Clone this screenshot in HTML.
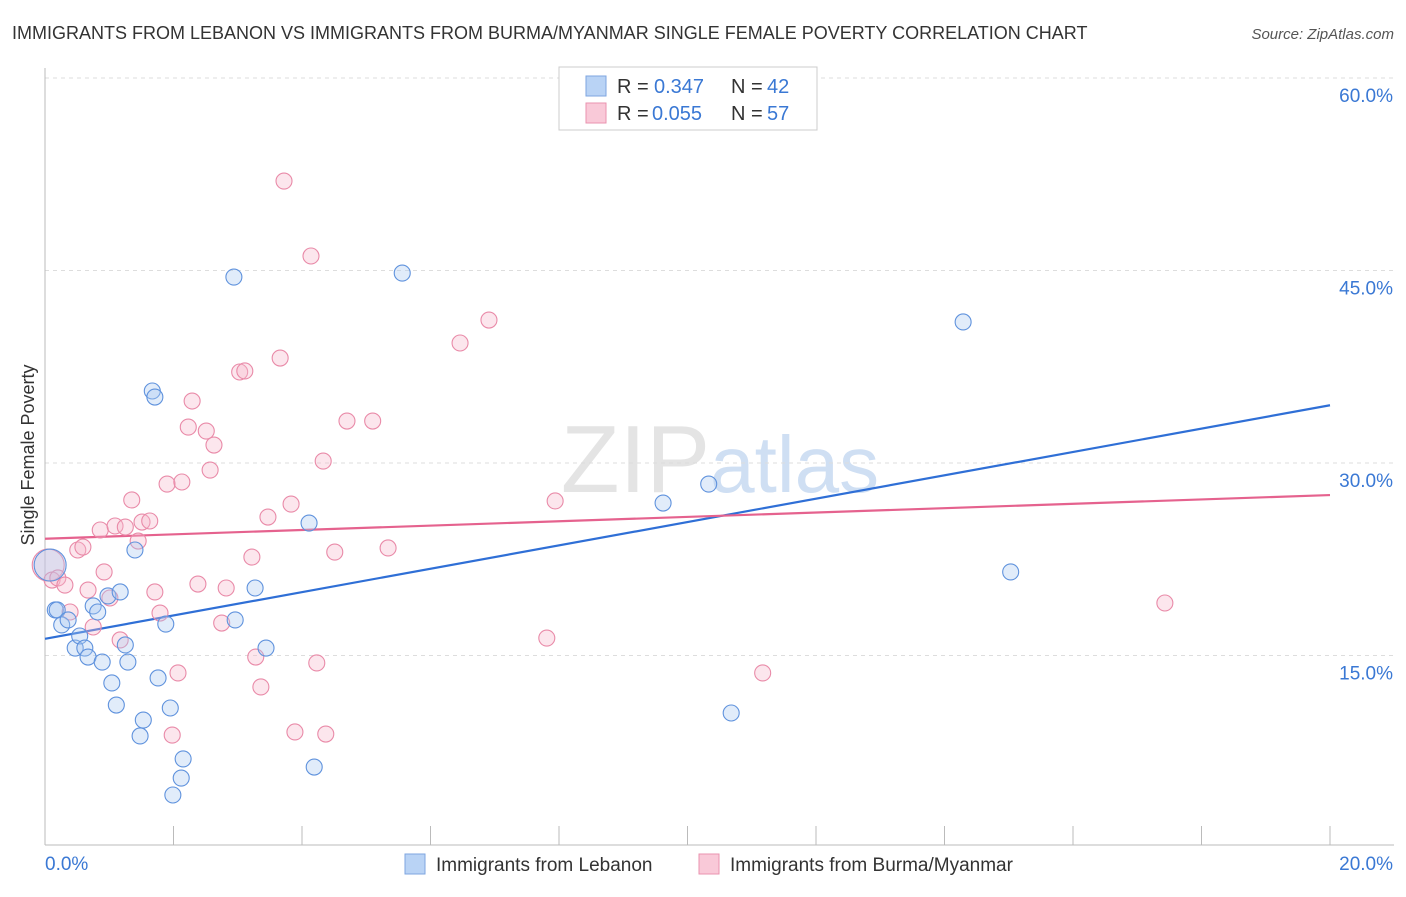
<!DOCTYPE html>
<html><head><meta charset="utf-8"><style>
body{margin:0;background:#fff;font-family:"Liberation Sans",sans-serif;}
svg text{font-family:"Liberation Sans",sans-serif;}
</style></head><body>
<svg id="chart" width="1406" height="892">
<text x="12" y="39" font-size="18" fill="#333">IMMIGRANTS FROM LEBANON VS IMMIGRANTS FROM BURMA/MYANMAR SINGLE FEMALE POVERTY CORRELATION CHART</text>
<text x="1394" y="39" font-size="15" fill="#555" font-style="italic" text-anchor="end">Source: ZipAtlas.com</text>
<text x="720" y="492" font-size="96" fill="#e4e4e4" text-anchor="middle" font-family="Liberation Serif">ZIP<tspan fill="#cfdff3" font-family="Liberation Sans" font-size="80">atlas</tspan></text>
<text x="34" y="455" font-size="18" fill="#333" transform="rotate(-90 34 455)" text-anchor="middle">Single Female Poverty</text>
<g id="grid"></g><g id="axes"></g><g id="lines"></g><g id="pts"></g>
<g>
<rect x="559" y="67" width="258" height="63" fill="#fff" stroke="#ccc"/>
<rect x="586" y="76" width="20" height="20" fill="#b9d3f5" stroke="#7ea6e0"/>
<text x="617" y="93" font-size="20" fill="#333">R =</text>
<text x="654" y="93" font-size="20" fill="#3a78d4">0.347</text>
<text x="731" y="93" font-size="20" fill="#333">N =</text>
<text x="767" y="93" font-size="20" fill="#3a78d4">42</text>
<rect x="586" y="103" width="20" height="20" fill="#f9c9d8" stroke="#ea93af"/>
<text x="617" y="120" font-size="20" fill="#333">R =</text>
<text x="652" y="120" font-size="20" fill="#3a78d4">0.055</text>
<text x="731" y="120" font-size="20" fill="#333">N =</text>
<text x="767" y="120" font-size="20" fill="#3a78d4">57</text>
</g>
<g>
<rect x="405" y="854" width="20" height="20" fill="#b9d3f5" stroke="#7ea6e0"/>
<text x="436" y="871" font-size="19" fill="#333">Immigrants from Lebanon</text>
<rect x="699" y="854" width="20" height="20" fill="#f9c9d8" stroke="#ea93af"/>
<text x="730" y="871" font-size="19" fill="#333">Immigrants from Burma/Myanmar</text>
</g>
</svg>
<script>
const yTicks=[15,30,45,60];
const yTickLabels=["15.0%","30.0%","45.0%","60.0%"];
const xTickLabels=["0.0%","20.0%"];
const blueX=[0.08,0.16,0.19,0.26,0.36,0.47,0.54,0.62,0.67,0.75,0.82,0.89,0.98,1.04,1.11,1.17,1.25,1.29,1.40,1.48,1.53,1.67,1.71,1.76,1.88,1.95,1.99,2.12,2.15,2.94,2.96,3.27,3.44,4.11,4.19,5.56,9.62,10.33,10.68,14.29,15.03];
const blueY=[22.05,18.55,18.55,17.38,17.77,15.58,16.52,15.58,14.88,18.86,18.39,14.49,19.64,12.86,11.14,19.95,15.82,14.49,23.22,8.73,9.97,35.61,35.14,13.25,17.45,10.91,4.13,5.45,6.94,44.49,17.77,20.26,15.58,25.32,6.31,44.80,26.88,28.36,10.52,40.99,21.51];
const pinkX=[0.05,0.11,0.20,0.31,0.39,0.51,0.59,0.67,0.75,0.86,0.92,1.01,1.09,1.17,1.25,1.35,1.45,1.51,1.63,1.71,1.79,1.90,1.98,2.07,2.13,2.23,2.29,2.38,2.51,2.57,2.63,2.75,2.82,3.03,3.11,3.22,3.28,3.36,3.47,3.66,3.72,3.83,3.89,4.14,4.23,4.33,4.37,4.51,4.70,5.10,5.34,6.46,6.91,7.81,7.94,11.17,17.43];
const pinkY=[22.05,20.88,21.04,20.49,18.39,23.22,23.45,20.10,17.22,24.78,21.51,19.48,25.09,16.21,25.01,27.12,23.92,25.40,25.48,19.95,18.31,28.36,8.80,13.64,28.52,32.80,34.83,20.57,32.49,29.45,31.40,17.53,20.26,37.09,37.17,22.67,14.88,12.55,25.79,38.18,51.97,26.80,9.04,46.13,14.42,30.15,8.88,23.06,33.27,33.27,23.38,39.35,41.14,16.36,27.04,13.64,19.09];
const blueLine=[16.3,34.5];
const pinkLine=[24.1,27.5];
const X=v=>45+v/20*1285, Y=v=>848-v/15*192.5;
const NS="http://www.w3.org/2000/svg";
function mk(t,a,p){const e=document.createElementNS(NS,t);for(const k in a)e.setAttribute(k,a[k]);document.getElementById(p).appendChild(e);return e;}
yTicks.forEach((t,i)=>{
 const g=mk('line',{x1:45,x2:1394,y1:Y(t),y2:Y(t),stroke:'#ddd','stroke-dasharray':'4,4'},'grid');
 
 
 const l=mk('text',{x:1393,y:Y(t)+24,'font-size':19,fill:'#3a78d4','text-anchor':'end'},'axes');l.textContent=yTickLabels[i];
 
 
});
const ax=mk('line',{x1:45,x2:45,y1:68,y2:845,stroke:'#bbb'},'axes');


const bx=mk('line',{x1:45,x2:1394,y1:845,y2:845,stroke:'#bbb'},'axes');


for(let i=0;i<=10;i++){const t=mk('line',{x1:X(i*2),x2:X(i*2),y1:826,y2:845,stroke:'#bbb'},'axes');
 
 }
[[0,'start',45],[1,'end',1393]].forEach(([i,a,x])=>{const l=mk('text',{x:x,y:870,'font-size':19,fill:'#3a78d4','text-anchor':a},'axes');l.textContent=xTickLabels[i];
 
 });
function pts(xs,ys,fill,stroke,name){xs.forEach((x,i)=>{const c=mk('circle',{cx:X(x),cy:Y(ys[i]),r:i==0?16:8,fill:fill,'fill-opacity':0.35,stroke:stroke,'stroke-width':1.1},'pts');
 
 });}
pts(pinkX,pinkY,'#f7b8cc','#e98aa8','burma-point');
pts(blueX,blueY,'#a9c8f2','#5f92dd','lebanon-point');
const bl=mk('line',{x1:X(0),y1:Y(blueLine[0]),x2:X(20),y2:Y(blueLine[1]),stroke:'#2f6fd6','stroke-width':2.2},'lines');


const pl=mk('line',{x1:X(0),y1:Y(pinkLine[0]),x2:X(20),y2:Y(pinkLine[1]),stroke:'#e5628e','stroke-width':2.2},'lines');


</script>
</body></html>
